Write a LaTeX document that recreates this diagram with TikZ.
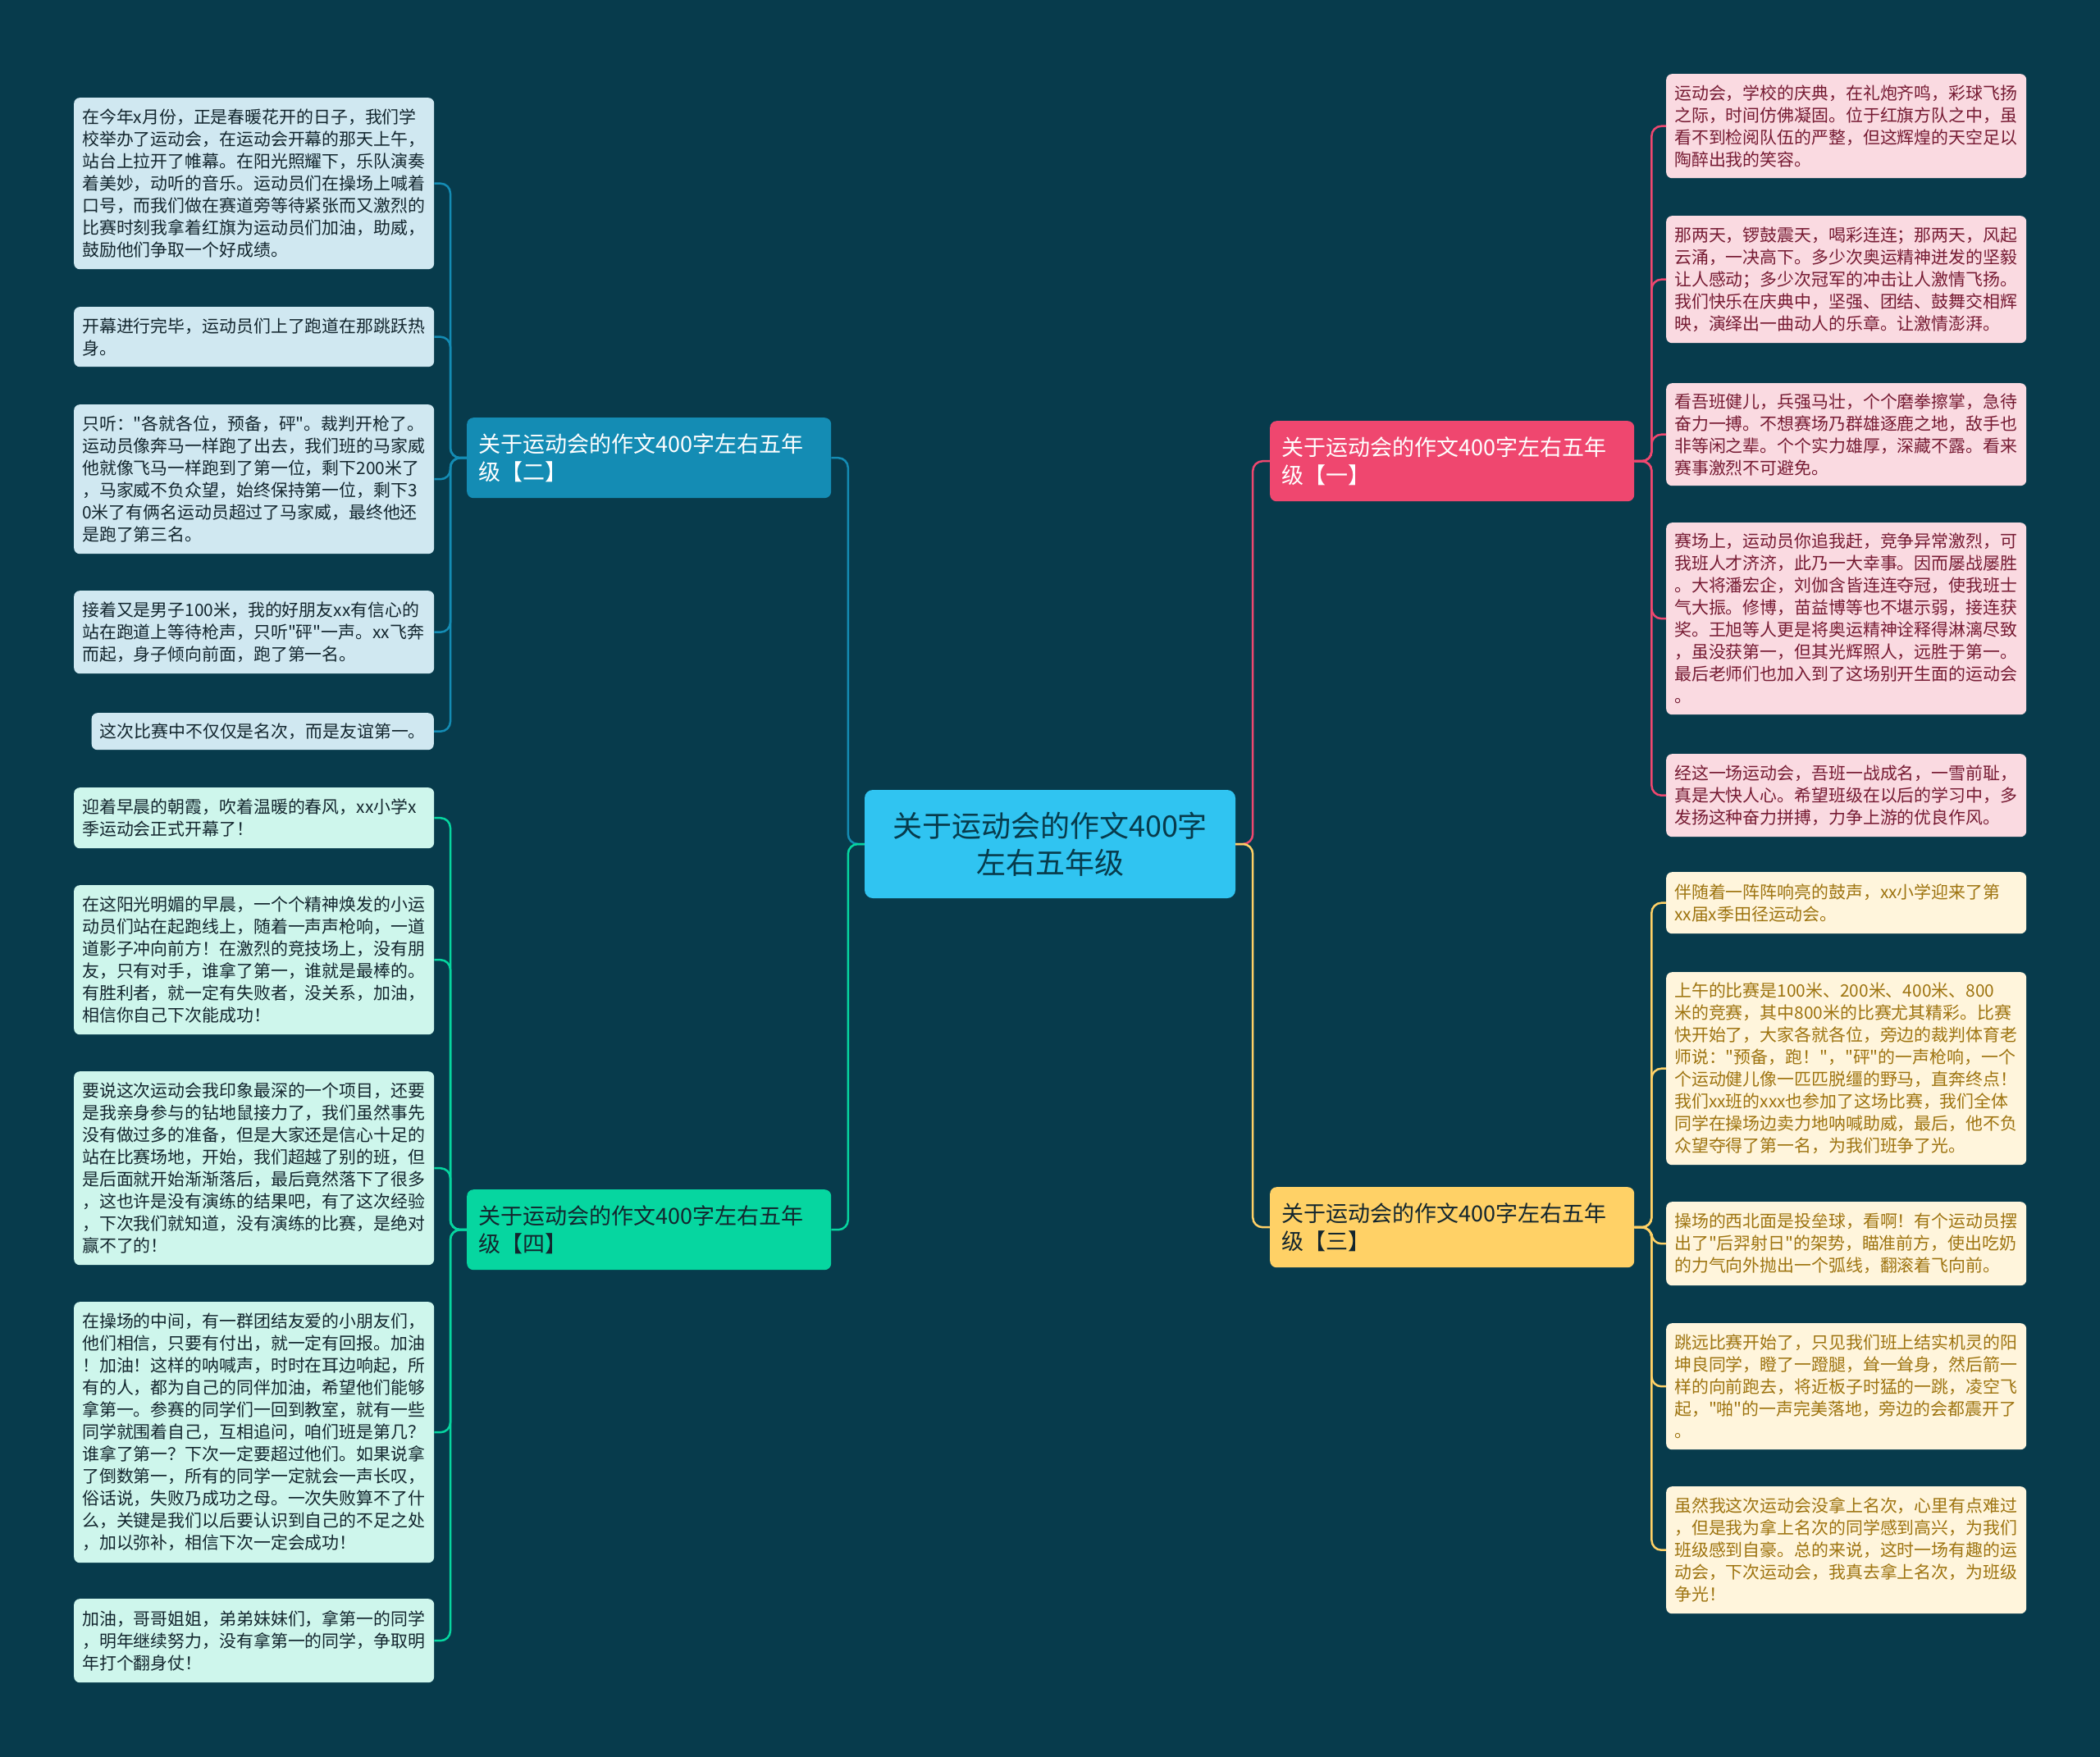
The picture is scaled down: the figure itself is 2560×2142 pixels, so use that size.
\documentclass[tikz,border=0pt]{standalone}
\usepackage{fontspec}
\newfontfamily\cjk{Noto Sans CJK SC}
\definecolor{bgc}{HTML}{073B4C}
\definecolor{ctrc}{HTML}{30C4F1}
\definecolor{blueB}{HTML}{148CB4}
\definecolor{pinkB}{HTML}{EF476F}
\definecolor{grnB}{HTML}{06D6A0}
\definecolor{yelB}{HTML}{FFD166}
\definecolor{bluL}{HTML}{D0E8F1}
\definecolor{grnL}{HTML}{CEF6EC}
\definecolor{pinkL}{HTML}{FADAE1}
\definecolor{yelL}{HTML}{FFF5DC}
\definecolor{darkT}{HTML}{13262E}
\definecolor{pinkT}{HTML}{761B33}
\definecolor{yelT}{HTML}{9E7410}
\tikzset{
  leafbase/.style={rounded corners=7pt, inner xsep=10pt, inner ysep=3pt, align=left, font=\cjk\fontsize{20.9}{27}\selectfont},
  leaf/.style={leafbase, text width=419pt, anchor=north west},
  lA/.style={leaf, fill=pinkL, text=pinkT},
  lB/.style={leaf, fill=yelL, text=yelT},
  lC/.style={leaf, fill=bluL, text=darkT},
  lD/.style={leaf, fill=grnL, text=darkT},
  branch/.style={rounded corners=8pt, inner xsep=14pt, inner ysep=4pt, text width=416pt, align=left, font=\cjk\fontsize{27}{34}\selectfont, minimum height=98pt, anchor=north west},
  link/.style={line width=2.5pt, rounded corners=12pt},
}
\begin{document}
\begin{tikzpicture}[x=1pt,y=-1pt]
\fill[bgc] (0,0) rectangle (2560,2142);
\useasboundingbox (0,0) rectangle (2560,2142);

% center
\node[fill=ctrc, text=bgc, rounded corners=10pt, minimum width=452pt, minimum height=132pt, align=center, font=\cjk\fontsize{36}{45}\selectfont] (c) at (1280,1029) {关于运动会的作文400字\\左右五年级};

% branches
\node[branch, fill=pinkB, text=white] (b1) at (1548,513) {关于运动会的作文400字左右五年\\级【一】};
\node[branch, fill=blueB, text=white] (b2) at (569,509) {关于运动会的作文400字左右五年\\级【二】};
\node[branch, fill=yelB, text=darkT] (b3) at (1548,1447) {关于运动会的作文400字左右五年\\级【三】};
\node[branch, fill=grnB, text=darkT] (b4) at (569,1450) {关于运动会的作文400字左右五年\\级【四】};

% children of 一
\node[lA, minimum height=127pt] (a1) at (2031,90) {运动会，学校的庆典，在礼炮齐鸣，彩球飞扬\\之际，时间仿佛凝固。位于红旗方队之中，虽\\看不到检阅队伍的严整，但这辉煌的天空足以\\陶醉出我的笑容。};
\node[lA, minimum height=155pt] (a2) at (2031,263) {那两天，锣鼓震天，喝彩连连；那两天，风起\\云涌，一决高下。多少次奥运精神迸发的坚毅\\让人感动；多少次冠军的冲击让人激情飞扬。\\我们快乐在庆典中，坚强、团结、鼓舞交相辉\\映，演绎出一曲动人的乐章。让激情澎湃。};
\node[lA, minimum height=125pt] (a3) at (2031,467) {看吾班健儿，兵强马壮，个个磨拳擦掌，急待\\奋力一搏。不想赛场乃群雄逐鹿之地，敌手也\\非等闲之辈。个个实力雄厚，深藏不露。看来\\赛事激烈不可避免。};
\node[lA, minimum height=234pt] (a4) at (2031,637) {赛场上，运动员你追我赶，竞争异常激烈，可\\我班人才济济，此乃一大幸事。因而屡战屡胜\\。大将潘宏企，刘伽含皆连连夺冠，使我班士\\气大振。修博，苗益博等也不堪示弱，接连获\\奖。王旭等人更是将奥运精神诠释得淋漓尽致\\，虽没获第一，但其光辉照人，远胜于第一。\\最后老师们也加入到了这场别开生面的运动会\\。};
\node[lA, minimum height=101pt] (a5) at (2031,919) {经这一场运动会，吾班一战成名，一雪前耻，\\真是大快人心。希望班级在以后的学习中，多\\发扬这种奋力拼搏，力争上游的优良作风。};

% children of 三
\node[lB, minimum height=75pt] (t1) at (2031,1063) {伴随着一阵阵响亮的鼓声，xx小学迎来了第\\xx届x季田径运动会。};
\node[lB, minimum height=235pt] (t2) at (2031,1185) {上午的比赛是100米、200米、400米、800\\米的竞赛，其中800米的比赛尤其精彩。比赛\\快开始了，大家各就各位，旁边的裁判体育老\\师说："预备，跑！"，"砰"的一声枪响，一个\\个运动健儿像一匹匹脱缰的野马，直奔终点！\\我们xx班的xxx也参加了这场比赛，我们全体\\同学在操场边卖力地呐喊助威，最后，他不负\\众望夺得了第一名，为我们班争了光。};
\node[lB, minimum height=102pt] (t3) at (2031,1465) {操场的西北面是投垒球，看啊！有个运动员摆\\出了"后羿射日"的架势，瞄准前方，使出吃奶\\的力气向外抛出一个弧线，翻滚着飞向前。};
\node[lB, minimum height=154pt] (t4) at (2031,1613) {跳远比赛开始了，只见我们班上结实机灵的阳\\坤良同学，瞪了一蹬腿，耸一耸身，然后箭一\\样的向前跑去，将近板子时猛的一跳，凌空飞\\起，"啪"的一声完美落地，旁边的会都震开了\\。};
\node[lB, minimum height=155pt] (t5) at (2031,1812) {虽然我这次运动会没拿上名次，心里有点难过\\，但是我为拿上名次的同学感到高兴，为我们\\班级感到自豪。总的来说，这时一场有趣的运\\动会，下次运动会，我真去拿上名次，为班级\\争光！};

% children of 二
\node[lC, minimum height=209pt] (e1) at (90,119) {在今年x月份，正是春暖花开的日子，我们学\\校举办了运动会，在运动会开幕的那天上午，\\站台上拉开了帷幕。在阳光照耀下，乐队演奏\\着美妙，动听的音乐。运动员们在操场上喊着\\口号，而我们做在赛道旁等待紧张而又激烈的\\比赛时刻我拿着红旗为运动员们加油，助威，\\鼓励他们争取一个好成绩。};
\node[lC, minimum height=73pt] (e2) at (90,374) {开幕进行完毕，运动员们上了跑道在那跳跃热\\身。};
\node[lC, minimum height=182pt] (e3) at (90,493) {只听："各就各位，预备，砰"。裁判开枪了。\\运动员像奔马一样跑了出去，我们班的马家威\\他就像飞马一样跑到了第一位，剩下200米了\\，马家威不负众望，始终保持第一位，剩下3\\0米了有俩名运动员超过了马家威，最终他还\\是跑了第三名。};
\node[lC, minimum height=101pt] (e4) at (90,720) {接着又是男子100米，我的好朋友xx有信心的\\站在跑道上等待枪声，只听"砰"一声。xx飞奔\\而起，身子倾向前面，跑了第一名。};
\node[leafbase, fill=bluL, text=darkT, anchor=north east, minimum height=45pt, minimum width=416pt, align=center] (e5) at (529,869) {这次比赛中不仅仅是名次，而是友谊第一。};

% children of 四
\node[lD, minimum height=74pt] (f1) at (90,960) {迎着早晨的朝霞，吹着温暖的春风，xx小学x\\季运动会正式开幕了！};
\node[lD, minimum height=182pt] (f2) at (90,1079) {在这阳光明媚的早晨，一个个精神焕发的小运\\动员们站在起跑线上，随着一声声枪响，一道\\道影子冲向前方！在激烈的竞技场上，没有朋\\友，只有对手，谁拿了第一，谁就是最棒的。\\有胜利者，就一定有失败者，没关系，加油，\\相信你自己下次能成功！};
\node[lD, minimum height=236pt] (f3) at (90,1306) {要说这次运动会我印象最深的一个项目，还要\\是我亲身参与的钻地鼠接力了，我们虽然事先\\没有做过多的准备，但是大家还是信心十足的\\站在比赛场地，开始，我们超越了别的班，但\\是后面就开始渐渐落后，最后竟然落下了很多\\，这也许是没有演练的结果吧，有了这次经验\\，下次我们就知道，没有演练的比赛，是绝对\\赢不了的！};
\node[lD, minimum height=318pt] (f4) at (90,1587) {在操场的中间，有一群团结友爱的小朋友们，\\他们相信，只要有付出，就一定有回报。加油\\！加油！这样的呐喊声，时时在耳边响起，所\\有的人，都为自己的同伴加油，希望他们能够\\拿第一。参赛的同学们一回到教室，就有一些\\同学就围着自己，互相追问，咱们班是第几？\\谁拿了第一？下次一定要超过他们。如果说拿\\了倒数第一，所有的同学一定就会一声长叹，\\俗话说，失败乃成功之母。一次失败算不了什\\么，关键是我们以后要认识到自己的不足之处\\，加以弥补，相信下次一定会成功！};
\node[lD, minimum height=102pt] (f5) at (90,1949) {加油，哥哥姐姐，弟弟妹妹们，拿第一的同学\\，明年继续努力，没有拿第一的同学，争取明\\年打个翻身仗！};

% main connectors
\draw[link, blueB] (c.west) -- ++(-20,0) |- (b2.east);
\draw[link, grnB] (c.west) -- ++(-20,0) |- (b4.east);
\draw[link, pinkB] (c.east) -- ++(21,0) |- (b1.west);
\draw[link, yelB] (c.east) -- ++(21,0) |- (b3.west);

% child connectors
\foreach \n in {a1,a2,a3,a4,a5} \draw[link, pinkB] (b1.east) -- ++(21,0) |- (\n.west);
\foreach \n in {t1,t2,t3,t4,t5} \draw[link, yelB] (b3.east) -- ++(21,0) |- (\n.west);
\foreach \n in {e1,e2,e3,e4,e5} \draw[link, blueB] (b2.west) -- ++(-20,0) |- (\n.east);
\foreach \n in {f1,f2,f3,f4,f5} \draw[link, grnB] (b4.west) -- ++(-20,0) |- (\n.east);
\end{tikzpicture}
\end{document}
